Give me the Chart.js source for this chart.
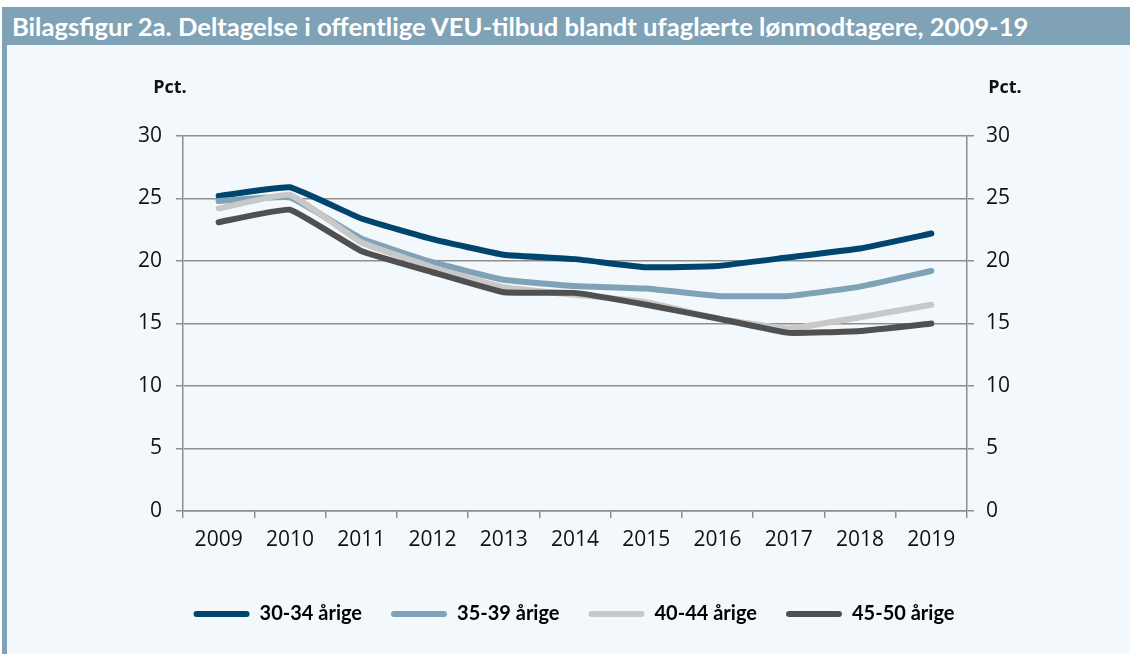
<!DOCTYPE html>
<html>
<head>
<meta charset="utf-8">
<script src="https://cdn.jsdelivr.net/npm/chart.js@4"></script>
<style>
  body { margin: 0; background: #fff; width: 1130px; height: 654px; overflow: hidden; }
  #titlebar {
    position: absolute; left: 2px; top: 7px; width: 1128px; height: 38px;
    background: #7fa2b7; color: #fff; font: bold 25.6px Lato, sans-serif;
    line-height: 38px; padding-left: 10px; box-sizing: border-box; white-space: nowrap;
  }
  #panel {
    position: absolute; left: 2px; top: 45px; width: 1128px; height: 609px;
    background: #f3f8fc; border-left: 5px solid #7fa2b7; box-sizing: border-box;
  }
  #chart { position: absolute; left: 0; top: 0; }
</style>
</head>
<body>
<div id="titlebar">Bilagsfigur 2a. Deltagelse i offentlige VEU-tilbud blandt ufaglærte lønmodtagere, 2009-19</div>
<div id="panel"></div>
<canvas id="chart" width="1130" height="654"></canvas>
<script>
const years = ["2009", "2010", "2011", "2012", "2013", "2014", "2015", "2016", "2017", "2018", "2019"];
const seriesNames = ["30-34 årige", "35-39 årige", "40-44 årige", "45-50 årige"];
const age30to34 = [25.2, 25.9, 23.4, 21.75, 20.5, 20.15, 19.5, 19.6, 20.3, 21.0, 22.2];
const age35to39 = [24.8, 25.1, 21.8, 19.9, 18.5, 18.0, 17.8, 17.2, 17.2, 17.95, 19.2];
const age40to44 = [24.2, 25.3, 21.5, 19.5, 17.9, 17.3, 16.7, 15.4, 14.6, 15.5, 16.5];
const age45to50 = [23.1, 24.1, 20.8, 19.1, 17.5, 17.45, 16.5, 15.4, 14.25, 14.4, 15.0];
const yTicks = [0, 5, 10, 15, 20, 25, 30];
const colors = ["#00456e", "#7fa2b7", "#c8c8c8", "#505050"];

const gridColor = "#8e8e8e";
const tickFont = { family: "'Open Sans', sans-serif", size: 21 };

// "Pct." above both value axes
const pctLabels = {
  id: "pctLabels",
  afterDraw(chart) {
    const ctx = chart.ctx;
    const area = chart.chartArea;
    ctx.save();
    ctx.fillStyle = "#111";
    ctx.font = "bold 18px 'Open Sans', sans-serif";
    ctx.textAlign = "center";
    ctx.textBaseline = "middle";
    ctx.fillText("Pct.", area.left - 13, 88);
    ctx.fillText("Pct.", area.right + 38, 88);
    ctx.restore();
  }
};

const allSeries = [age30to34, age35to39, age40to44, age45to50];

new Chart(document.getElementById("chart"), {
  type: "line",
  data: {
    labels: years,
    datasets: allSeries.map((values, i) => ({
      label: seriesNames[i],
      data: values,
      borderColor: colors[i],
      backgroundColor: colors[i],
      borderWidth: 6,
      borderCapStyle: "round",
      borderJoinStyle: "round",
      pointRadius: 0,
      tension: 0.1,
      order: 4 - i,
      yAxisID: "y",
    })),
  },
  plugins: [pctLabels],
  options: {
    responsive: false,
    animation: false,
    layout: { padding: { top: 136, bottom: 20, left: 18, right: 0 } },
    plugins: {
      tooltip: { enabled: false },
      legend: {
        position: "bottom",
        labels: {
          sort: (a, b) => a.datasetIndex - b.datasetIndex,
          boxWidth: 56,
          boxHeight: 6,
          useBorderRadius: true,
          borderRadius: 3,
          padding: 29,
          color: "#111",
          font: { family: "Lato, sans-serif", size: 20, weight: "bold" },
          generateLabels(chart) {
            return chart.data.datasets.map((ds, i) => ({
              text: ds.label,
              fillStyle: ds.borderColor,
              strokeStyle: ds.borderColor,
              lineWidth: 0,
              borderRadius: 3,
              datasetIndex: i,
              hidden: false,
            }));
          },
        },
      },
    },
    scales: {
      x: {
        offset: true,
        grid: { offset: true, drawOnChartArea: false, color: gridColor, lineWidth: 1.5, tickLength: 7 },
        border: { color: gridColor, width: 1.5 },
        ticks: { color: "#111", font: tickFont, padding: 9, maxRotation: 0 },
        afterFit(s) { s.height = 64; },
      },
      y: {
        position: "left",
        min: 0,
        max: 30,
        afterBuildTicks(s) { s.ticks = yTicks.map(v => ({ value: v })); },
        grid: { color: gridColor, lineWidth: 1.5, tickLength: 7 },
        border: { color: gridColor, width: 1.5 },
        ticks: { color: "#111", font: tickFont, padding: 14 },
        afterFit(s) { s.width = 165; },
      },
      y2: {
        position: "right",
        min: 0,
        max: 30,
        afterBuildTicks(s) { s.ticks = yTicks.map(v => ({ value: v })); },
        grid: { drawOnChartArea: false, color: gridColor, lineWidth: 1.5, tickLength: 7 },
        border: { color: gridColor, width: 1.5 },
        ticks: { color: "#111", font: tickFont, padding: 12 },
        afterFit(s) { s.width = 163; },
      },
    },
  },
});
</script>
</body>
</html>
